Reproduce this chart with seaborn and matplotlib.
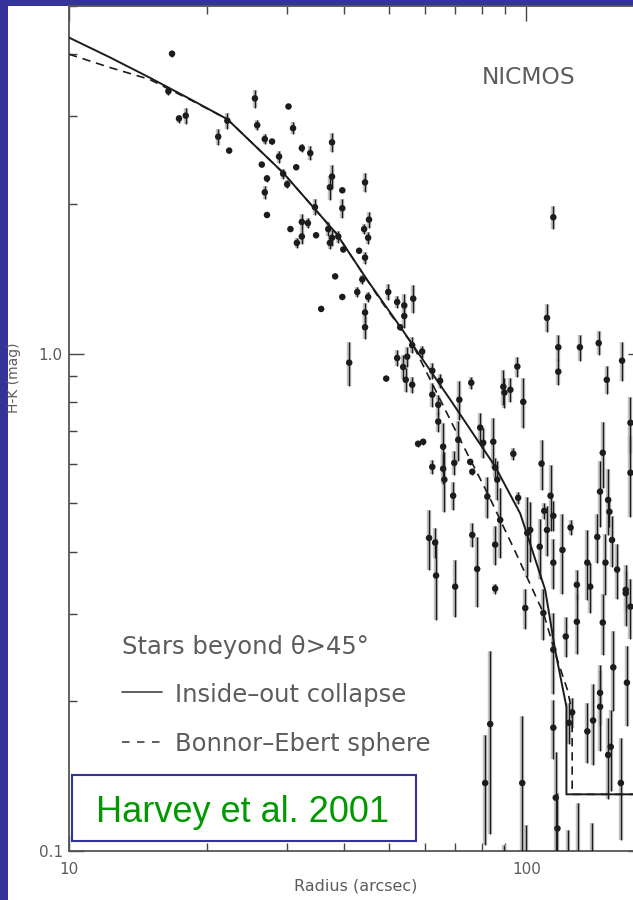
import numpy as np
import pandas as pd
import matplotlib
matplotlib.use("Agg")
import matplotlib.pyplot as plt
from matplotlib.patches import Rectangle
from matplotlib.lines import Line2D
from matplotlib.ticker import FixedLocator, FixedFormatter, LogLocator, NullFormatter
import seaborn as sns

sns.set_style("ticks")
plt.rcParams["font.family"] = ["DejaVu Sans"]

# ---- NICMOS H-K colours of background stars (radius in arcsec, colour and error in mag) ----
radius = [
    16.8, 16.5, 17.4, 18.0, 21.2, 22.2, 22.4, 25.5, 25.8, 26.8, 27.8, 28.8, 30.2, 30.9,
    32.3, 33.7, 31.4, 26.4, 27.1, 26.8, 29.4, 30.0, 27.1, 37.6, 37.6, 37.2, 39.6, 39.6,
    44.4, 34.5, 30.5, 32.3, 33.3, 32.3, 31.5, 34.7, 36.9, 37.6, 38.8, 37.2, 39.8, 44.2,
    45.3, 45.1, 43.1, 44.4, 38.2, 43.8,
    39.6, 42.7, 35.6, 45.1, 44.4, 44.4, 49.9, 52.2, 54.1, 54.1, 56.6, 53.0, 56.3, 59.2,
    52.2, 53.8, 54.9, 54.5, 56.3, 49.4, 41.0, 62.3, 64.8, 62.3, 64.2, 64.2, 65.8, 58.0,
    59.5, 62.3, 65.8, 66.2, 61.3, 63.2,
    111, 117.5, 117.5, 131, 144, 150, 162, 169, 75.8, 71.4, 69.6, 71.0, 69.2, 75.4,
    76.2, 79.3, 80.5, 84.7, 85.5, 86.4, 82.2, 89.1, 89.6, 92.3, 95.6, 98.5, 93.7, 96.0,
    108, 113, 109.5, 114.6, 125, 145, 147, 151, 152, 169, 63.5, 69.9, 76.2, 78.1,
    85.5, 85.5, 100.5, 102, 107, 111, 114.6, 120, 129, 136, 138, 143, 149, 154,
    158, 165, 87.7, 114.6,
    83.4, 98.0, 99.5, 109, 114.6, 122, 126, 124, 114.6, 116, 117, 129, 136, 140,
    145, 153, 151, 155, 161, 165, 147, 145, 166, 169,
    81.3, 89.5, 100, 123.6, 130, 139.5,
]
hk = [
    4.01, 3.37, 2.97, 3.01, 2.73, 2.94, 2.56, 3.26, 2.88, 2.70, 2.67, 2.49, 3.14, 2.84,
    2.59, 2.53, 2.37, 2.40, 2.25, 2.11, 2.30, 2.19, 1.90, 2.66, 2.27, 2.16, 2.13, 1.96,
    2.21, 1.97, 1.78, 1.84, 1.83, 1.72, 1.67, 1.73, 1.78, 1.71, 1.72, 1.67, 1.62, 1.78,
    1.86, 1.71, 1.61, 1.56, 1.43, 1.41,
    1.30, 1.33, 1.23, 1.30, 1.21, 1.13, 1.33, 1.27, 1.25, 1.19, 1.29, 1.13, 1.04, 1.01,
    0.98, 0.94, 0.986, 0.886, 0.866, 0.891, 0.959, 0.924, 0.882, 0.827, 0.789, 0.730, 0.650, 0.659,
    0.665, 0.592, 0.587, 0.558, 0.426, 0.417,
    1.18, 1.03, 0.920, 1.03, 1.05, 0.886, 0.968, 0.726, 0.874, 0.808, 0.603, 0.671, 0.518, 0.606,
    0.579, 0.710, 0.662, 0.665, 0.590, 0.558, 0.516, 0.858, 0.835, 0.846, 0.942, 0.800, 0.629, 0.513,
    0.601, 0.518, 0.483, 0.472, 0.447, 0.528, 0.632, 0.508, 0.481, 0.576, 0.358, 0.340, 0.432, 0.369,
    0.413, 0.337, 0.436, 0.442, 0.409, 0.442, 0.380, 0.403, 0.343, 0.380, 0.340, 0.428, 0.380, 0.422,
    0.368, 0.335, 0.463, 1.88,
    0.180, 0.137, 0.308, 0.301, 0.254, 0.270, 0.190, 0.181, 0.177, 0.128, 0.111, 0.289, 0.174, 0.183,
    0.195, 0.162, 0.156, 0.234, 0.137, 0.330, 0.288, 0.208, 0.218, 0.310,
    0.137, 0.090, 0.090, 0.090, 0.090, 0.090,
]
hk_err = [
    0.055, 0.062, 0.055, 0.11, 0.10, 0.11, 0.024, 0.135, 0.066, 0.062, 0.025, 0.069, 0.029, 0.078,
    0.048, 0.082, 0.022, 0.022, 0.041, 0.068, 0.053, 0.040, 0.018, 0.12, 0.125, 0.12, 0.02, 0.09,
    0.10, 0.073, 0.016, 0.068, 0.042, 0.055, 0.038, 0.016, 0.057, 0.063, 0.048, 0.046, 0.022, 0.041,
    0.069, 0.047, 0.015, 0.043, 0.013, 0.032,
    0.012, 0.031, 0.011, 0.030, 0.056, 0.062, 0.049, 0.035, 0.069, 0.066, 0.083, 0.016, 0.038, 0.028,
    0.036, 0.052, 0.045, 0.049, 0.032, 0.012, 0.097, 0.034, 0.028, 0.046, 0.036, 0.034, 0.075, 0.009,
    0.009, 0.019, 0.041, 0.077, 0.059, 0.029,
    0.076, 0.062, 0.055, 0.062, 0.058, 0.057, 0.089, 0.094, 0.024, 0.074, 0.033, 0.062, 0.033, 0.008,
    0.008, 0.049, 0.046, 0.077, 0.027, 0.051, 0.048, 0.071, 0.058, 0.047, 0.043, 0.092, 0.017, 0.014,
    0.069, 0.079, 0.018, 0.033, 0.016, 0.080, 0.096, 0.077, 0.033, 0.106, 0.066, 0.044, 0.024, 0.059,
    0.038, 0.008, 0.080, 0.061, 0.057, 0.051, 0.044, 0.074, 0.024, 0.061, 0.039, 0.049, 0.053, 0.049,
    0.047, 0.031, 0.075, 0.10,
    0.072, 0.05, 0.028, 0.035, 0.047, 0.025, 0.013, 0.017, 0.024, 0.03, 0.02, 0.04, 0.024, 0.034,
    0.036, 0.03, 0.029, 0.043, 0.032, 0.046, 0.04, 0.029, 0.04, 0.043,
    0.034, 0.013, 0.023, 0.02, 0.035, 0.024,
]

# ---- model profiles ----
collapse_r = [10.0, 12.3, 15.0, 18.4, 22.2, 29.4, 38.5, 44.8, 53.0, 68.2, 85.5, 97.0,
              110, 115.6, 122.4, 122.4, 400]
collapse_hk = [4.32, 3.94, 3.59, 3.25, 2.96, 2.31, 1.74, 1.41, 1.133, 0.808, 0.593, 0.477,
               0.335, 0.254, 0.195, 0.13, 0.13]
be_r = [10.0, 12.3, 15.0, 18.4, 22.2, 29.4, 38.5, 47.9, 56.6, 71.7, 82.2, 94.6,
        109, 117, 123, 126, 126, 400]
be_hk = [4.0, 3.76, 3.56, 3.24, 2.96, 2.31, 1.74, 1.284, 1.038, 0.671, 0.525, 0.400,
         0.301, 0.242, 0.211, 0.190, 0.13, 0.13]

x_major = [10, 100]
x_major_labels = ["10", "100"]
y_major = [0.1, 1.0]
y_major_labels = ["0.1", "1.0"]

BG = "#333399"
INK = "#1c1c1c"
GREY_TXT = "#5c5c5c"
W, H = 633, 900


def fx(px):
    return px / W


def fy(py):
    return 1 - py / H


fig = plt.figure(figsize=(W / 100, H / 100), dpi=100)
fig.patch.set_facecolor(BG)
fig.add_artist(Rectangle((fx(8), 0), 1, fy(6), transform=fig.transFigure,
                         facecolor="white", edgecolor="none", zorder=-10))

ax = fig.add_axes([fx(69), 1 - 851 / H, 574 / W, 845 / H])
ax.set_xscale("log")
ax.set_yscale("log")

stars = pd.DataFrame({"radius": radius, "hk": hk, "err": hk_err})
lo = stars["hk"] - stars["err"]
hi = stars["hk"] + stars["err"]
ax.vlines(stars["radius"], lo, hi, color="#c4c4c4", lw=3.2, zorder=2)
ax.vlines(stars["radius"], lo, hi, color=INK, lw=1.0, zorder=3)
sns.scatterplot(data=stars, x="radius", y="hk", ax=ax, s=22, color=INK,
                edgecolor="none", zorder=4, legend=False)

collapse = pd.DataFrame({"r": collapse_r, "hk": collapse_hk})
bonnor = pd.DataFrame({"r": be_r, "hk": be_hk})
sns.lineplot(data=collapse, x="r", y="hk", ax=ax, sort=False, estimator=None,
             color=INK, lw=1.4, zorder=5)
sns.lineplot(data=bonnor, x="r", y="hk", ax=ax, sort=False, estimator=None,
             color=INK, lw=1.2, linestyle=(0, (5, 3.5)), zorder=5)

ax.set_xlim(10, 180)
ax.set_ylim(0.1, 5)

ax.xaxis.set_major_locator(FixedLocator(x_major))
ax.xaxis.set_major_formatter(FixedFormatter(x_major_labels))
ax.xaxis.set_minor_locator(LogLocator(base=10, subs=np.arange(2, 10)))
ax.xaxis.set_minor_formatter(NullFormatter())
ax.yaxis.set_major_locator(FixedLocator(y_major))
ax.yaxis.set_major_formatter(FixedFormatter(y_major_labels))
ax.yaxis.set_minor_locator(LogLocator(base=10, subs=np.arange(2, 10)))
ax.yaxis.set_minor_formatter(NullFormatter())

ax.tick_params(which="both", direction="in", top=True, right=True,
               color="#444444", width=1.0, labelcolor=GREY_TXT, labelsize=11)
ax.tick_params(which="major", length=11)
ax.tick_params(which="minor", length=5.5)
ax.tick_params(axis="y", which="major", pad=4.5)
ax.tick_params(axis="x", which="major", pad=8)
for sp in ax.spines.values():
    sp.set_color("#555555")
    sp.set_linewidth(1.3)

ax.set_xlabel("Radius (arcsec)", fontsize=11.5, color=GREY_TXT)
ax.xaxis.set_label_coords(0.5, -0.033)
ax.set_ylabel("H-K (mag)", fontsize=10, color=GREY_TXT)
ax.yaxis.set_label_coords(-0.0836, 0.56)

# panel annotations
fig.text(fx(482), fy(84), "NICMOS", ha="left", va="baseline", fontsize=16.8, color=GREY_TXT)
fig.text(fx(122), fy(654), "Stars beyond θ>45°", ha="left", va="baseline",
         fontsize=17.5, color=GREY_TXT)
fig.text(fx(175), fy(702), "Inside–out collapse", ha="left", va="baseline",
         fontsize=17.5, color=GREY_TXT)
fig.text(fx(175), fy(751), "Bonnor–Ebert sphere", ha="left", va="baseline",
         fontsize=17.5, color=GREY_TXT)
fig.add_artist(Line2D([fx(122), fx(162)], [fy(692), fy(692)], color="#444444", lw=1.2,
                      transform=fig.transFigure))
fig.add_artist(Line2D([fx(122), fx(164)], [fy(742), fy(742)], color="#444444", lw=1.2,
                      linestyle=(0, (4.5, 4.5)), transform=fig.transFigure))

# citation box
fig.add_artist(Rectangle((fx(72), fy(841)), (416 - 72) / W, (841 - 775) / H,
                         transform=fig.transFigure, facecolor="white",
                         edgecolor=BG, lw=1.5, zorder=20))
fig.text(fx(243), fy(822), "Harvey et al. 2001", ha="center", va="baseline",
         fontsize=26, color="#009900", family=["Liberation Sans"], zorder=21)

fig.savefig("out.png", dpi=100, facecolor=fig.get_facecolor())
